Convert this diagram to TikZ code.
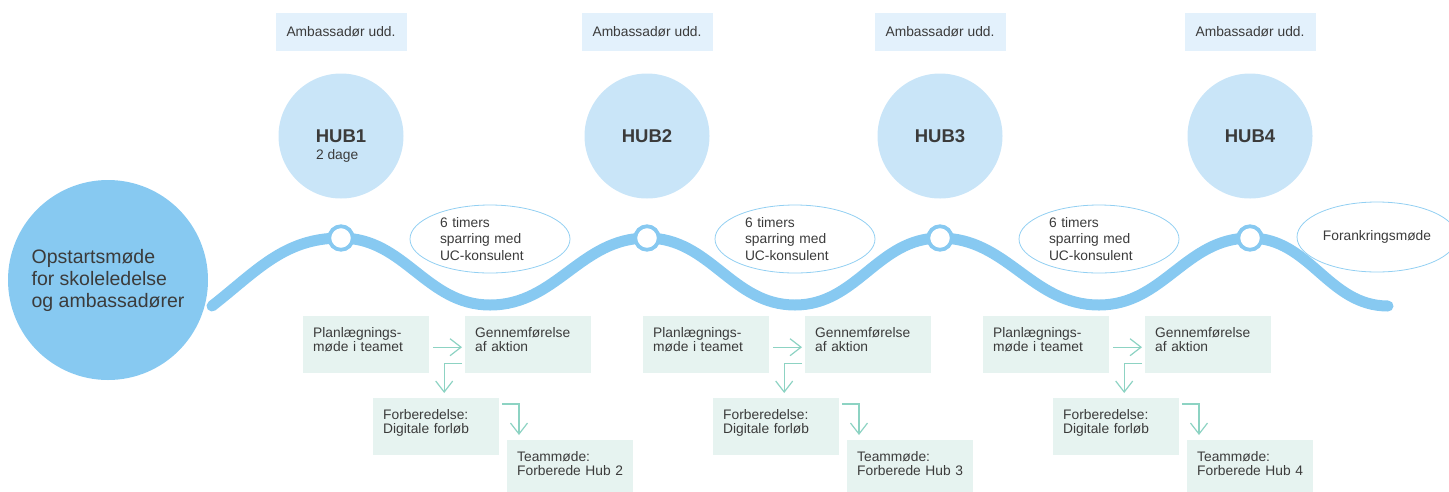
\documentclass[tikz,border=0pt]{standalone}
\usepackage{fontspec}
\setmainfont{Liberation Sans}
\usetikzlibrary{arrows.meta, calc, positioning, shapes.geometric}

\definecolor{startblue}{HTML}{87C9F1}
\definecolor{hubblue}{HTML}{C9E5F8}
\definecolor{ambblue}{HTML}{E3F1FC}
\definecolor{waveblue}{HTML}{87C9F1}
\definecolor{rimblue}{HTML}{92CFF2}
\definecolor{boxgreen}{HTML}{E6F3F0}
\definecolor{flowteal}{HTML}{8DD3C3}
\definecolor{darktext}{HTML}{3B3B3B}

\tikzset{
  startcircle/.style={circle, fill=startblue, minimum size=200pt, inner sep=0pt, align=left, font=\fontsize{19.5}{22}\selectfont},
  hubcircle/.style={circle, fill=hubblue, minimum size=125pt, inner sep=0pt, font=\fontsize{18.5}{20}\selectfont\bfseries},
  hubnote/.style={inner sep=0pt, font=\fontsize{13.8}{16}\selectfont},
  ambbox/.style={fill=ambblue, minimum width=131pt, minimum height=38pt, inner sep=0pt, font=\fontsize{13.8}{16}\selectfont},
  ring/.style={circle, draw=waveblue, fill=white, line width=3.8pt, minimum size=23.5pt, inner sep=0pt},
  wave/.style={draw=waveblue, line width=11pt, line cap=round},
  sparbubble/.style={ellipse, draw=rimblue, line width=0.8pt, minimum width=160pt, minimum height=68pt, inner sep=0pt, text width=100pt, align=left, font=\fontsize{13.8}{16.7}\selectfont},
  endbubble/.style={ellipse, draw=rimblue, line width=0.8pt, minimum width=160pt, minimum height=70pt, inner sep=0pt, font=\fontsize{13.8}{16.7}\selectfont},
  stepbox/.style={fill=boxgreen, anchor=north west, text width=106pt, inner xsep=10pt, inner ysep=0pt, text height=21pt, text depth=36pt, align=left, font=\fontsize{13.8}{13.8}\selectfont},
  flow/.style={draw=flowteal, line width=1.2pt, -{Straight Barb[length=11pt,width=17pt]}},
}

\begin{document}
\begin{tikzpicture}[x=1pt, y=-1pt, every node/.append style={text=darktext}]
\useasboundingbox (0,0) rectangle (1449,491);

\node[startcircle] (start) at (108,280) {Opstartsmøde\\for skoleledelse\\og ambassadører};

\foreach[count=\i] \x in {341, 647, 940, 1250} {
  \node[hubcircle] (hub\i) at (\x,136) {HUB\i};
  \node[ambbox, above=22pt of hub\i] (amb\i) {Ambassadør udd.};
  \coordinate (peak\i) at (\x,238);
}
\node[hubnote, anchor=base west] (days1) at ([yshift=-17.5pt]hub1.text) {2 dage};

\foreach[count=\i] \x in {490, 795, 1099} {
  \coordinate (dip\i) at (\x,305);
  \node[sparbubble] (spar\i) at (\x,239) {6 timers\\sparring med\\UC-konsulent};
}
\node[endbubble] (anchoring) at (1377,237) {Forankringsmøde};

\coordinate (wstart) at (212,306);
\coordinate (wend) at (1388,306);
\draw[wave] (wstart) to[out=38,in=180] (peak1) to[out=0,in=180] (dip1)
  to[out=0,in=180] (peak2) to[out=0,in=180] (dip2)
  to[out=0,in=180] (peak3) to[out=0,in=180] (dip3)
  to[out=0,in=180] (peak4) to[out=0,in=180] (wend);

\foreach \i in {1,...,4}
\node[ring] (ring\i) at (peak\i) {};

\foreach[count=\g] \dx in {0, 340, 680} {
  \pgfmathtruncatemacro\nxt{\g+1}
  \node[stepbox] (plan\g) at (303+\dx,316) {Planlægnings-\\møde i teamet};
  \node[stepbox] (act\g) at (465+\dx,316) {Gennemførelse\\af aktion};
  \node[stepbox] (prep\g) at (373+\dx,398) {Forberedelse:\\Digitale~forløb};
  \node[stepbox] (team\g) at (507+\dx,440) {Teammøde:\\Forberede~Hub~\nxt};
  \draw[flow] ([xshift=4pt,yshift=-2.5pt]plan\g.east) -- ([xshift=-3pt,yshift=-2.5pt]act\g.west);
  \draw[flow] ([xshift=-3pt,yshift=10pt]act\g.south west) -| ([xshift=8pt,yshift=5pt]prep\g.north);
  \draw[flow] ([xshift=3pt,yshift=-6pt]prep\g.north east) -| ([xshift=12pt,yshift=5pt]team\g.north west);
}
\end{tikzpicture}
\end{document}
